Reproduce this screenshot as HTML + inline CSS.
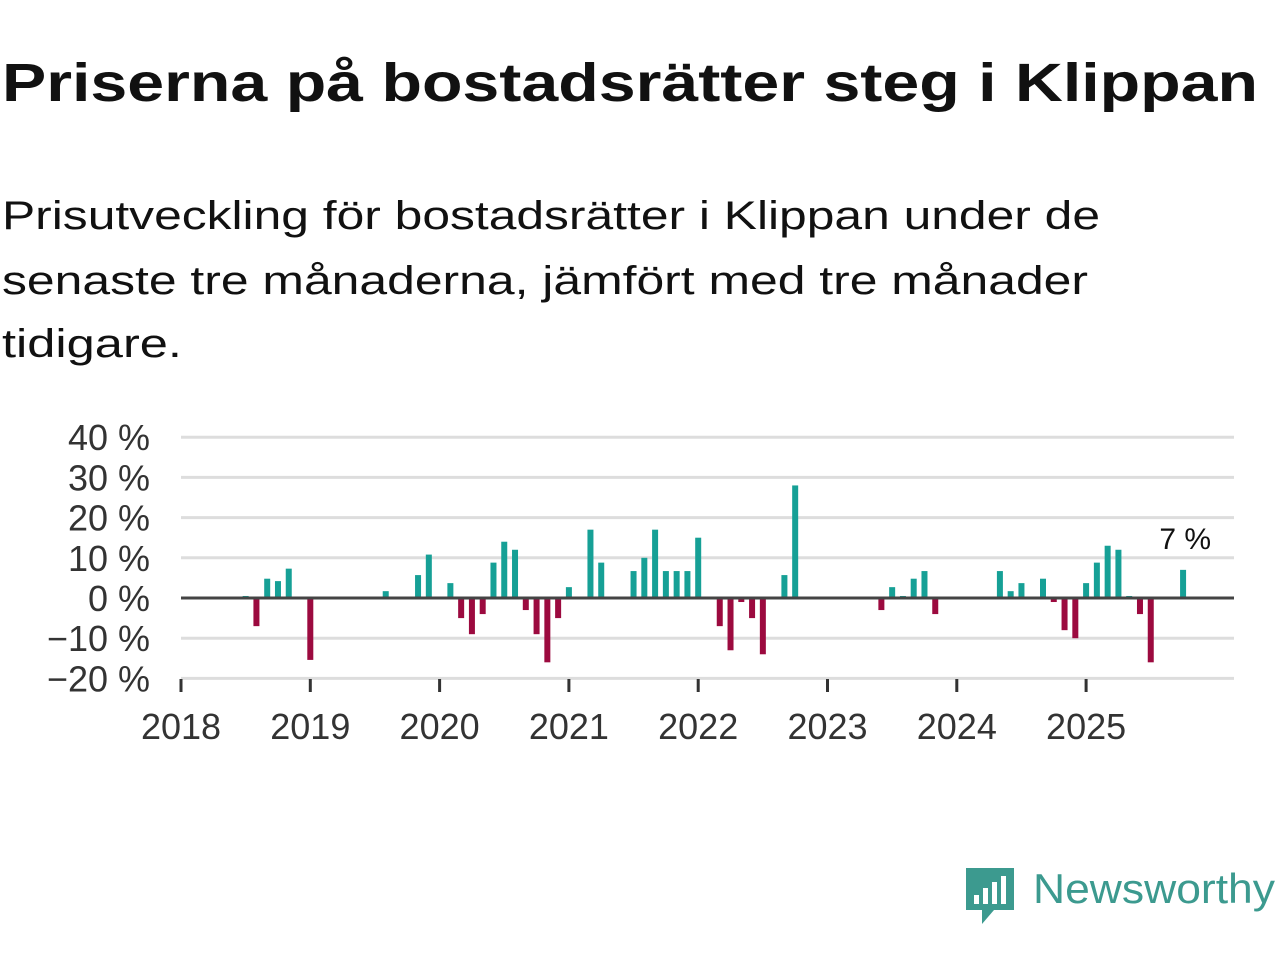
<!DOCTYPE html>
<html><head><meta charset="utf-8"><style>
body{margin:0;background:#fff;}
svg{display:block;font-family:"Liberation Sans",sans-serif;}
</style></head><body>
<svg id="chart" width="1280" height="960">
<text x="2" y="101" font-size="54" font-weight="bold" fill="#111" textLength="1256" lengthAdjust="spacingAndGlyphs">Priserna på bostadsrätter steg i Klippan</text>
<g font-size="40" fill="#111">
<text x="2" y="229" textLength="1098" lengthAdjust="spacingAndGlyphs">Prisutveckling för bostadsrätter i Klippan under de</text>
<text x="2" y="294" textLength="1086" lengthAdjust="spacingAndGlyphs">senaste tre månaderna, jämfört med tre månader</text>
<text x="2" y="357" textLength="180" lengthAdjust="spacingAndGlyphs">tidigare.</text>
</g>
<g id="grid"></g><g id="bars"></g><g id="axes"></g>
<g>
<path d="M966 868 h48 v42 h-20 l-12 14 v-14 h-16 z" fill="#3c9a8f"/>
<rect x="974" y="895" width="5" height="9" fill="#fff"/>
<rect x="983" y="888" width="5" height="16" fill="#fff"/>
<rect x="992" y="882" width="5" height="22" fill="#fff"/>
<rect x="1001" y="876" width="5" height="28" fill="#fff"/>
<text x="1033" y="903" font-size="42" fill="#3c9a8f" textLength="242" lengthAdjust="spacingAndGlyphs">Newsworthy</text>
</g>
</svg>
<script>
const startYear = 2018;
const values = [null,null,null,null,null,null,0.5,-7,4.8,4.2,7.3,null,-15.4,null,null,null,null,null,null,1.7,null,null,5.7,10.8,null,3.7,-5,-9,-4,8.8,14,12,-3,-9,-16,-5,2.7,null,17,8.8,null,null,6.7,10,17,6.7,6.7,6.7,15,null,-7,-13,-1,-5,-14,null,5.7,28,null,null,null,null,null,null,null,-3,2.7,0.5,4.8,6.7,-4,null,null,null,null,null,6.7,1.7,3.7,null,4.8,-1,-8,-10,3.7,8.8,13,12,0.5,-4,-16,null,null,7];
const yTicks = [40,30,20,10,0,-10,-20];
const yTickLabels = ["40 %","30 %","20 %","10 %","0 %","−10 %","−20 %"];
const xYears = [2018,2019,2020,2021,2022,2023,2024,2025];
const lastLabel = "7 %";
const NS="http://www.w3.org/2000/svg";
const y = v => 598 - v*4.02;
const x = m => 181 + m*(129.3/12);
function mk(tag, attrs, parent){const e=document.createElementNS(NS,tag);for(const k in attrs)e.setAttribute(k,attrs[k]);parent.appendChild(e);return e;}
const grid=document.getElementById('grid'), bars=document.getElementById('bars'), axes=document.getElementById('axes');
yTicks.forEach((t,i)=>{
  if(t!==0){const l=mk('line',{x1:181,x2:1234,y1:y(t),y2:y(t),stroke:'#dddddd','stroke-width':3},grid);
  
  }
  const tx=mk('text',{x:150,y:y(t)+13,'font-size':36,fill:'#333','text-anchor':'end'},axes);
  tx.textContent=yTickLabels[i];
  
  
});
values.forEach((v,m)=>{
  if(v===null)return;
  const r=mk('rect',{x:x(m)-3,width:6,y:v>=0?y(v):y(0),height:Math.max(1,Math.abs(y(v)-y(0))),fill:v>=0?'#16a096':'#9c0a3f'},bars);
  
  
});
const z=mk('line',{x1:181,x2:1234,y1:y(0),y2:y(0),stroke:'#444','stroke-width':3},axes);


xYears.forEach(yr=>{
  const px=x((yr-startYear)*12);
  const t=mk('line',{x1:px,x2:px,y1:679,y2:692,stroke:'#333','stroke-width':3},axes);
  
  
  const l=mk('text',{x:px,y:739,'font-size':36,fill:'#333','text-anchor':'middle'},axes);
  l.textContent=yr;
  
  
});
const lastIdx=values.length-1;
const lab=mk('text',{x:x(lastIdx)+28,y:549,'font-size':30,fill:'#111','text-anchor':'end'},axes);
lab.textContent=lastLabel;


</script>
</body></html>
